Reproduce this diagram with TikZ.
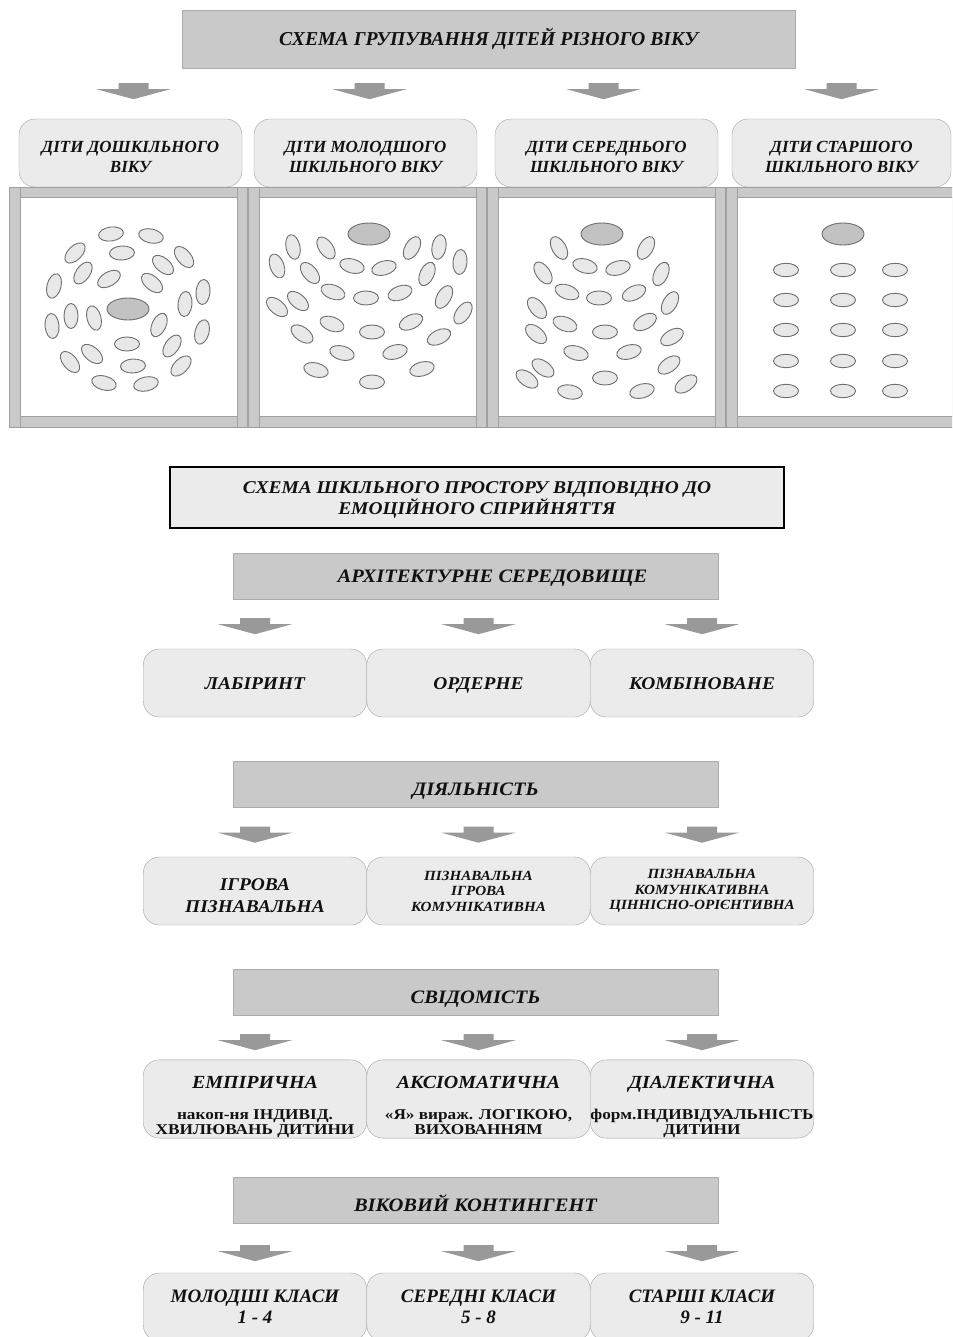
\documentclass[tikz,border=0pt]{standalone}
\usepackage{fontspec}
\setmainfont{Liberation Serif}
\newfontfamily\widefont{Liberation Serif}[FakeStretch=1.08]
\newfontfamily\widerfont{Liberation Serif}[FakeStretch=1.15]
\usetikzlibrary{calc}
\definecolor{headgray}{HTML}{C9C9C9}
\definecolor{headline}{HTML}{ABABAB}
\definecolor{boxgray}{HTML}{EBEBEB}
\definecolor{boxline}{HTML}{A3A3A3}
\definecolor{arrowgray}{HTML}{999999}
\definecolor{framegray}{HTML}{C9C9C9}
\definecolor{frameline}{HTML}{A0A0A0}
\definecolor{seatfill}{HTML}{E8E8E8}
\definecolor{seatline}{HTML}{6E6E6E}
\definecolor{teachfill}{HTML}{C2C2C2}
\definecolor{textgray}{HTML}{111111}
\newcommand\subline{\widerfont\bfseries\upshape\fontsize{15}{15}\selectfont}
\newcommand\tightlines{\lineskiplimit=-30pt\relax}
\tikzset{
    line cap=round,line join=round,
    header/.style={draw=headline, fill=headgray, inner sep=0pt, text=textgray,
        minimum width=485pt, minimum height=46pt, text height=13pt, text depth=0pt,
        font=\widefont\bfseries\itshape\fontsize{19}{22}\selectfont},
    low/.style={text height=22pt},
    agebox/.style={draw=boxline, fill=boxgray, rounded corners=16pt, inner sep=0pt,
        minimum height=68pt, align=center, text=textgray,
        font=\bfseries\itshape\fontsize{17}{20}\selectfont},
    choice/.style={agebox, minimum width=223.5pt,
        font=\widefont\bfseries\itshape\fontsize{18}{22}\selectfont},
    oneline/.style={text height=12pt, text depth=0pt},
    small/.style={font=\widefont\bfseries\itshape\fontsize{14}{15.5}\selectfont},
    twofold/.style={font=\widefont\bfseries\itshape\fontsize{18.5}{15}\selectfont\tightlines},
    seat/.style={draw=seatline, fill=seatfill, line width=0.9pt},
    teacher/.style={seat, fill=teachfill},
    downarrow/.pic={
        \fill[arrowgray] (-15,0) rectangle (15,6) (-37,6) -- (37,6) -- (0,16) -- cycle;
    },
}
\begin{document}
\begin{tikzpicture}[x=1pt,y=-1pt]
    \clip (0,0) rectangle (952,1337);
    \fill[white] (0,0) rectangle (952,1337);

    \node[header, minimum width=613pt, minimum height=58pt,
        font=\bfseries\itshape\fontsize{19.7}{22}\selectfont] (title) at (488.5,39)
        {СХЕМА ГРУПУВАННЯ ДІТЕЙ РІЗНОГО ВІКУ};

    \foreach \px in {9,248,487,726}{
        \fill[framegray] (\px,187) rectangle ++(238,240);
        \draw[frameline] (\px,187) rectangle ++(238,240);
        \draw[frameline] (\px+11,187) -- ++(0,240) (\px+228,187) -- ++(0,240);
        \draw[frameline, fill=white] (\px+11,197) rectangle (\px+228,416);
    }

    \node[agebox, minimum width=223pt] (preschool) at (130.5,153) {\rule{0pt}{20pt}ДІТИ ДОШКІЛЬНОГО\\ВІКУ};
    \node[agebox, minimum width=223pt] (junior) at (365.5,153) {\rule{0pt}{20pt}ДІТИ МОЛОДШОГО\\ШКІЛЬНОГО ВІКУ};
    \node[agebox, minimum width=223pt] (middle) at (606.5,153) {\rule{0pt}{20pt}ДІТИ СЕРЕДНЬОГО\\ШКІЛЬНОГО ВІКУ};
    \node[agebox, minimum width=219pt] (senior) at (841.5,153) {\rule{0pt}{20pt}ДІТИ СТАРШОГО\\ШКІЛЬНОГО ВІКУ};
    \foreach \n/\dx in {preschool/3,junior/4,middle/-3,senior/0}
        \pic at ($(\n.north |- title.south)+(\dx,15)$) {downarrow};

    % preschool: circle
    \foreach \x/\y/\a in {111/234/8, 151/236/-12, 75/253/45, 122/253/3, 184/257/-50,
        163/265/-40, 83/273/55, 109/279/30, 152/283/-40, 54/286/75, 203/292/85,
        185/304/85, 71/316/90, 94/318/-75, 52/326/-85, 159/325/65, 202/332/75,
        127/344/0, 172/346/55, 92/354/-40, 70/362/-50, 133/366/3, 181/366/45,
        104/383/-15, 146/384/12}
        \draw[seat, rotate around={\a:(\x,\y)}] (\x,\y) ellipse [x radius=12.5, y radius=7];
    \draw[teacher] (128,309) ellipse [x radius=21, y radius=11];

    % junior: arcs
    \foreach \x/\y/\a in {293/247/-78, 326/248/-55, 412/248/60, 439/247/80, 277/266/-70,
        352/266/-15, 384/268/15, 310/273/-50, 427/274/65, 460/262/85, 333/292/-20,
        366/298/0, 400/293/20, 298/301/-40, 277/307/-40, 444/297/60, 463/313/55,
        332/324/-20, 372/332/0, 411/322/25, 302/334/-35, 439/337/25, 342/353/-15,
        395/352/15, 316/370/-15, 422/369/15, 372/382/0}
        \draw[seat, rotate around={\a:(\x,\y)}] (\x,\y) ellipse [x radius=12.5, y radius=7];
    \draw[teacher] (369,234) ellipse [x radius=21, y radius=11];

    % middle: trapezium
    \foreach \x/\y/\a in {559/248/-60, 646/248/60, 585/266/-15, 618/268/15, 543/273/-55,
        661/274/65, 567/292/-20, 599/298/0, 634/293/25, 537/308/-50, 670/303/60,
        565/324/-20, 605/332/0, 645/322/30, 536/334/-40, 672/337/30, 576/353/-15,
        629/352/15, 543/368/-35, 669/365/35, 527/379/-35, 570/392/-10, 605/378/0,
        642/391/15, 686/384/35}
        \draw[seat, rotate around={\a:(\x,\y)}] (\x,\y) ellipse [x radius=12.5, y radius=7];
    \draw[teacher] (602,234) ellipse [x radius=21, y radius=11];

    % senior: rows
    \foreach \x in {786,843,895}
        \foreach \y in {270,300,330,361,391}
            \draw[seat] (\x,\y) ellipse [x radius=12.5, y radius=6.7];
    \draw[teacher] (843,234) ellipse [x radius=21, y radius=11];

    \node[draw=black, line width=1.6pt, fill=boxgray, inner sep=0pt, minimum width=614pt,
        minimum height=61pt, align=center, text=textgray,
        font=\widefont\bfseries\itshape\fontsize{18}{21.5}\selectfont] (space) at (477,497.5)
        {\rule{0pt}{17pt}СХЕМА ШКІЛЬНОГО ПРОСТОРУ ВІДПОВІДНО ДО\\ЕМОЦІЙНОГО СПРИЙНЯТТЯ};

    \node[header] (archi) at (475.5,576) {\hspace*{34pt}АРХІТЕКТУРНЕ СЕРЕДОВИЩЕ};
    \node[choice, oneline] (labyrinth) at (255,683) {ЛАБІРИНТ};
    \node[choice, oneline] (order) at (478.5,683) {ОРДЕРНЕ};
    \node[choice, oneline] (combined) at (702,683) {КОМБІНОВАНЕ};
    \foreach \n in {labyrinth,order,combined}
        \pic at ($(\n.north |- archi.south)+(0,19)$) {downarrow};

    \node[header, low] (activity) at (475.5,784.5) {ДІЯЛЬНІСТЬ};
    \node[choice] (play) at (255,891) {\rule{0pt}{22pt}ІГРОВА\\ПІЗНАВАЛЬНА};
    \node[choice, small] (cognitive) at (478.5,891) {ПІЗНАВАЛЬНА\\ІГРОВА\\КОМУНІКАТИВНА};
    \node[choice, small] (values) at (702,891) {ПІЗНАВАЛЬНА\\КОМУНІКАТИВНА\\ЦІННІСНО-ОРІЄНТИВНА};
    \foreach \n in {play,cognitive,values}
        \pic at ($(\n.north |- activity.south)+(0,19)$) {downarrow};

    \node[header, low] (mind) at (475.5,992) {СВІДОМІСТЬ};
    \node[choice, twofold] (empiric) at (255,1099)
        {\rule{0pt}{29pt}ЕМПІРИЧНА\\[16pt]\subline накоп-ня ІНДИВІД.\\\subline ХВИЛЮВАНЬ ДИТИНИ};
    \node[choice, twofold] (axiom) at (478.5,1099)
        {\rule{0pt}{29pt}АКСІОМАТИЧНА\\[16pt]\subline «Я» вираж. ЛОГІКОЮ,\\\subline ВИХОВАННЯМ\vphantom{Д}};
    \node[choice, twofold] (dialect) at (702,1099)
        {\rule{0pt}{29pt}ДІАЛЕКТИЧНА\\[16pt]\subline форм.ІНДИВІДУАЛЬНІСТЬ\\\subline ДИТИНИ};
    \foreach \n in {empiric,axiom,dialect}
        \pic at ($(\n.north |- mind.south)+(0,19)$) {downarrow};

    \node[header, low] (age) at (475.5,1200) {ВІКОВИЙ КОНТИНГЕНТ};
    \node[choice, font=\bfseries\itshape\fontsize{19}{21}\selectfont] (young) at (255,1307) {МОЛОДШІ КЛАСИ\\1 - 4};
    \node[choice, font=\bfseries\itshape\fontsize{19}{21}\selectfont] (mid) at (478.5,1307) {СЕРЕДНІ КЛАСИ\\5 - 8};
    \node[choice, font=\bfseries\itshape\fontsize{19}{21}\selectfont] (old) at (702,1307) {СТАРШІ КЛАСИ\\9 - 11};
    \foreach \n in {young,mid,old}
        \pic at ($(\n.north |- age.south)+(0,22)$) {downarrow};
\end{tikzpicture}
\end{document}
